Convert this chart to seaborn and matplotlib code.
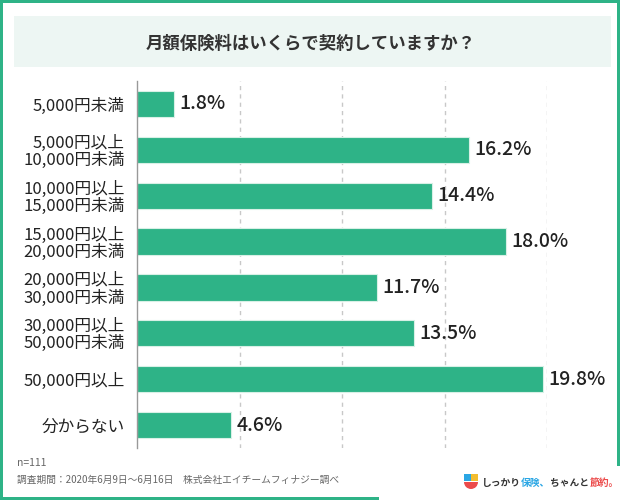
import matplotlib
matplotlib.use("Agg")
import matplotlib.pyplot as plt
import matplotlib.patches as mpatches
from matplotlib.transforms import IdentityTransform
import seaborn as sns
import pandas as pd

categories = [
    "5,000円未満",
    "5,000円以上\n10,000円未満",
    "10,000円以上\n15,000円未満",
    "15,000円以上\n20,000円未満",
    "20,000円以上\n30,000円未満",
    "30,000円以上\n50,000円未満",
    "50,000円以上",
    "分からない",
]
percent = [1.8, 16.2, 14.4, 18.0, 11.7, 13.5, 19.8, 4.6]
grid_ticks = [5, 10, 15, 20]

title = "月額保険料はいくらで契約していますか？"
note_n = "n=111"
note_src = "調査期間：2020年6月9日〜6月16日　株式会社エイチームフィナジー調べ"

GREEN = "#2eb387"

sns.set_style("white")
plt.rcParams["font.family"] = ["Noto Sans CJK JP", "DejaVu Sans"]

df = pd.DataFrame({"cat": categories, "pct": percent})

fig = plt.figure(figsize=(6.2, 5.0), dpi=100)
ax = fig.add_axes([137 / 620, 1 - 448 / 500, 410 / 620, 367 / 500])

sns.barplot(data=df, x="pct", y="cat", color=GREEN, saturation=1,
            width=0.57, edgecolor="#d8f0e6", linewidth=0.8, ax=ax)
ax.bar_label(ax.containers[0], labels=[f"{v:.1f}%" for v in percent],
             padding=4, fontsize=14, color="#222222", fontweight="medium")

ax.set_xlim(0, 20)
ax.set_ylim(len(categories) - 0.5, -0.5)
for t in grid_ticks:
    ax.axvline(t, color="#c8c8c8", linestyle=(0, (3, 3)), linewidth=1, zorder=0)
ax.set_xticks([])
ax.set_xlabel("")
ax.set_ylabel("")
ax.tick_params(axis="y", length=0, pad=9, labelsize=12, labelcolor="#222222")
for lbl in ax.get_yticklabels():
    lbl.set_horizontalalignment("right")
    lbl.set_linespacing(1.0)
for s in ["top", "right", "bottom"]:
    ax.spines[s].set_visible(False)
ax.spines["left"].set_color("#999999")
ax.spines["left"].set_linewidth(1)

# frame
px = IdentityTransform()
def pix_rect(x0, y0, x1, y1, **kw):
    # top-left image coords -> display coords
    fig.patches.append(mpatches.Rectangle((x0, 500 - y1), x1 - x0, y1 - y0,
                                          transform=px, figure=fig, **kw))

pix_rect(0, 0, 620, 3, color=GREEN, lw=0)
pix_rect(0, 0, 3, 500, color=GREEN, lw=0)
pix_rect(617, 0, 620, 466, color=GREEN, lw=0)
pix_rect(0, 497, 379, 500, color=GREEN, lw=0)

# title band
pix_rect(14, 16, 611, 67, color="#edf6f3", lw=0)
fig.text(311 / 620, 1 - 44 / 500, title, ha="center", va="center",
         fontsize=12.5, fontweight="bold", color="#333333")

# notes
fig.text(17 / 620, 1 - 463 / 500, note_n, ha="left", va="center",
         fontsize=7.5, color="#666666")
fig.text(17 / 620, 1 - 480 / 500, note_src, ha="left", va="center",
         fontsize=7, color="#666666")

# logo
pix_rect(464, 474, 471, 481, color="#2aa6e4", lw=0)
pix_rect(471, 474, 478, 481, color="#f3bd2f", lw=0)
fig.patches.append(mpatches.Wedge((471, 500 - 482), 7, 180, 360, color="#ec4b4b",
                                  lw=0, transform=px, figure=fig))
t1 = fig.text(482 / 620, 1 - 483 / 500, "しっかり", ha="left", va="center",
              fontsize=7, fontweight="bold", color="#333333")
t2 = fig.text(0, 0, "保険、", fontsize=7, fontweight="bold", color="#2aa6e4")
t3 = fig.text(0, 0, "ちゃんと", fontsize=7, fontweight="bold", color="#333333")
t4 = fig.text(0, 0, "節約。", fontsize=7, fontweight="bold", color="#ec4b4b")
fig.canvas.draw()
r = fig.canvas.get_renderer()
prev = t1
for t in [t2, t3, t4]:
    bb = prev.get_window_extent(r)
    pos = fig.transFigure.inverted().transform((bb.x1, 0))
    t.set_position((pos[0], 1 - 483 / 500))
    t.set_va("center")
    t.set_ha("left")
    prev = t
    fig.canvas.draw()

fig.savefig("out.png", dpi=100)
